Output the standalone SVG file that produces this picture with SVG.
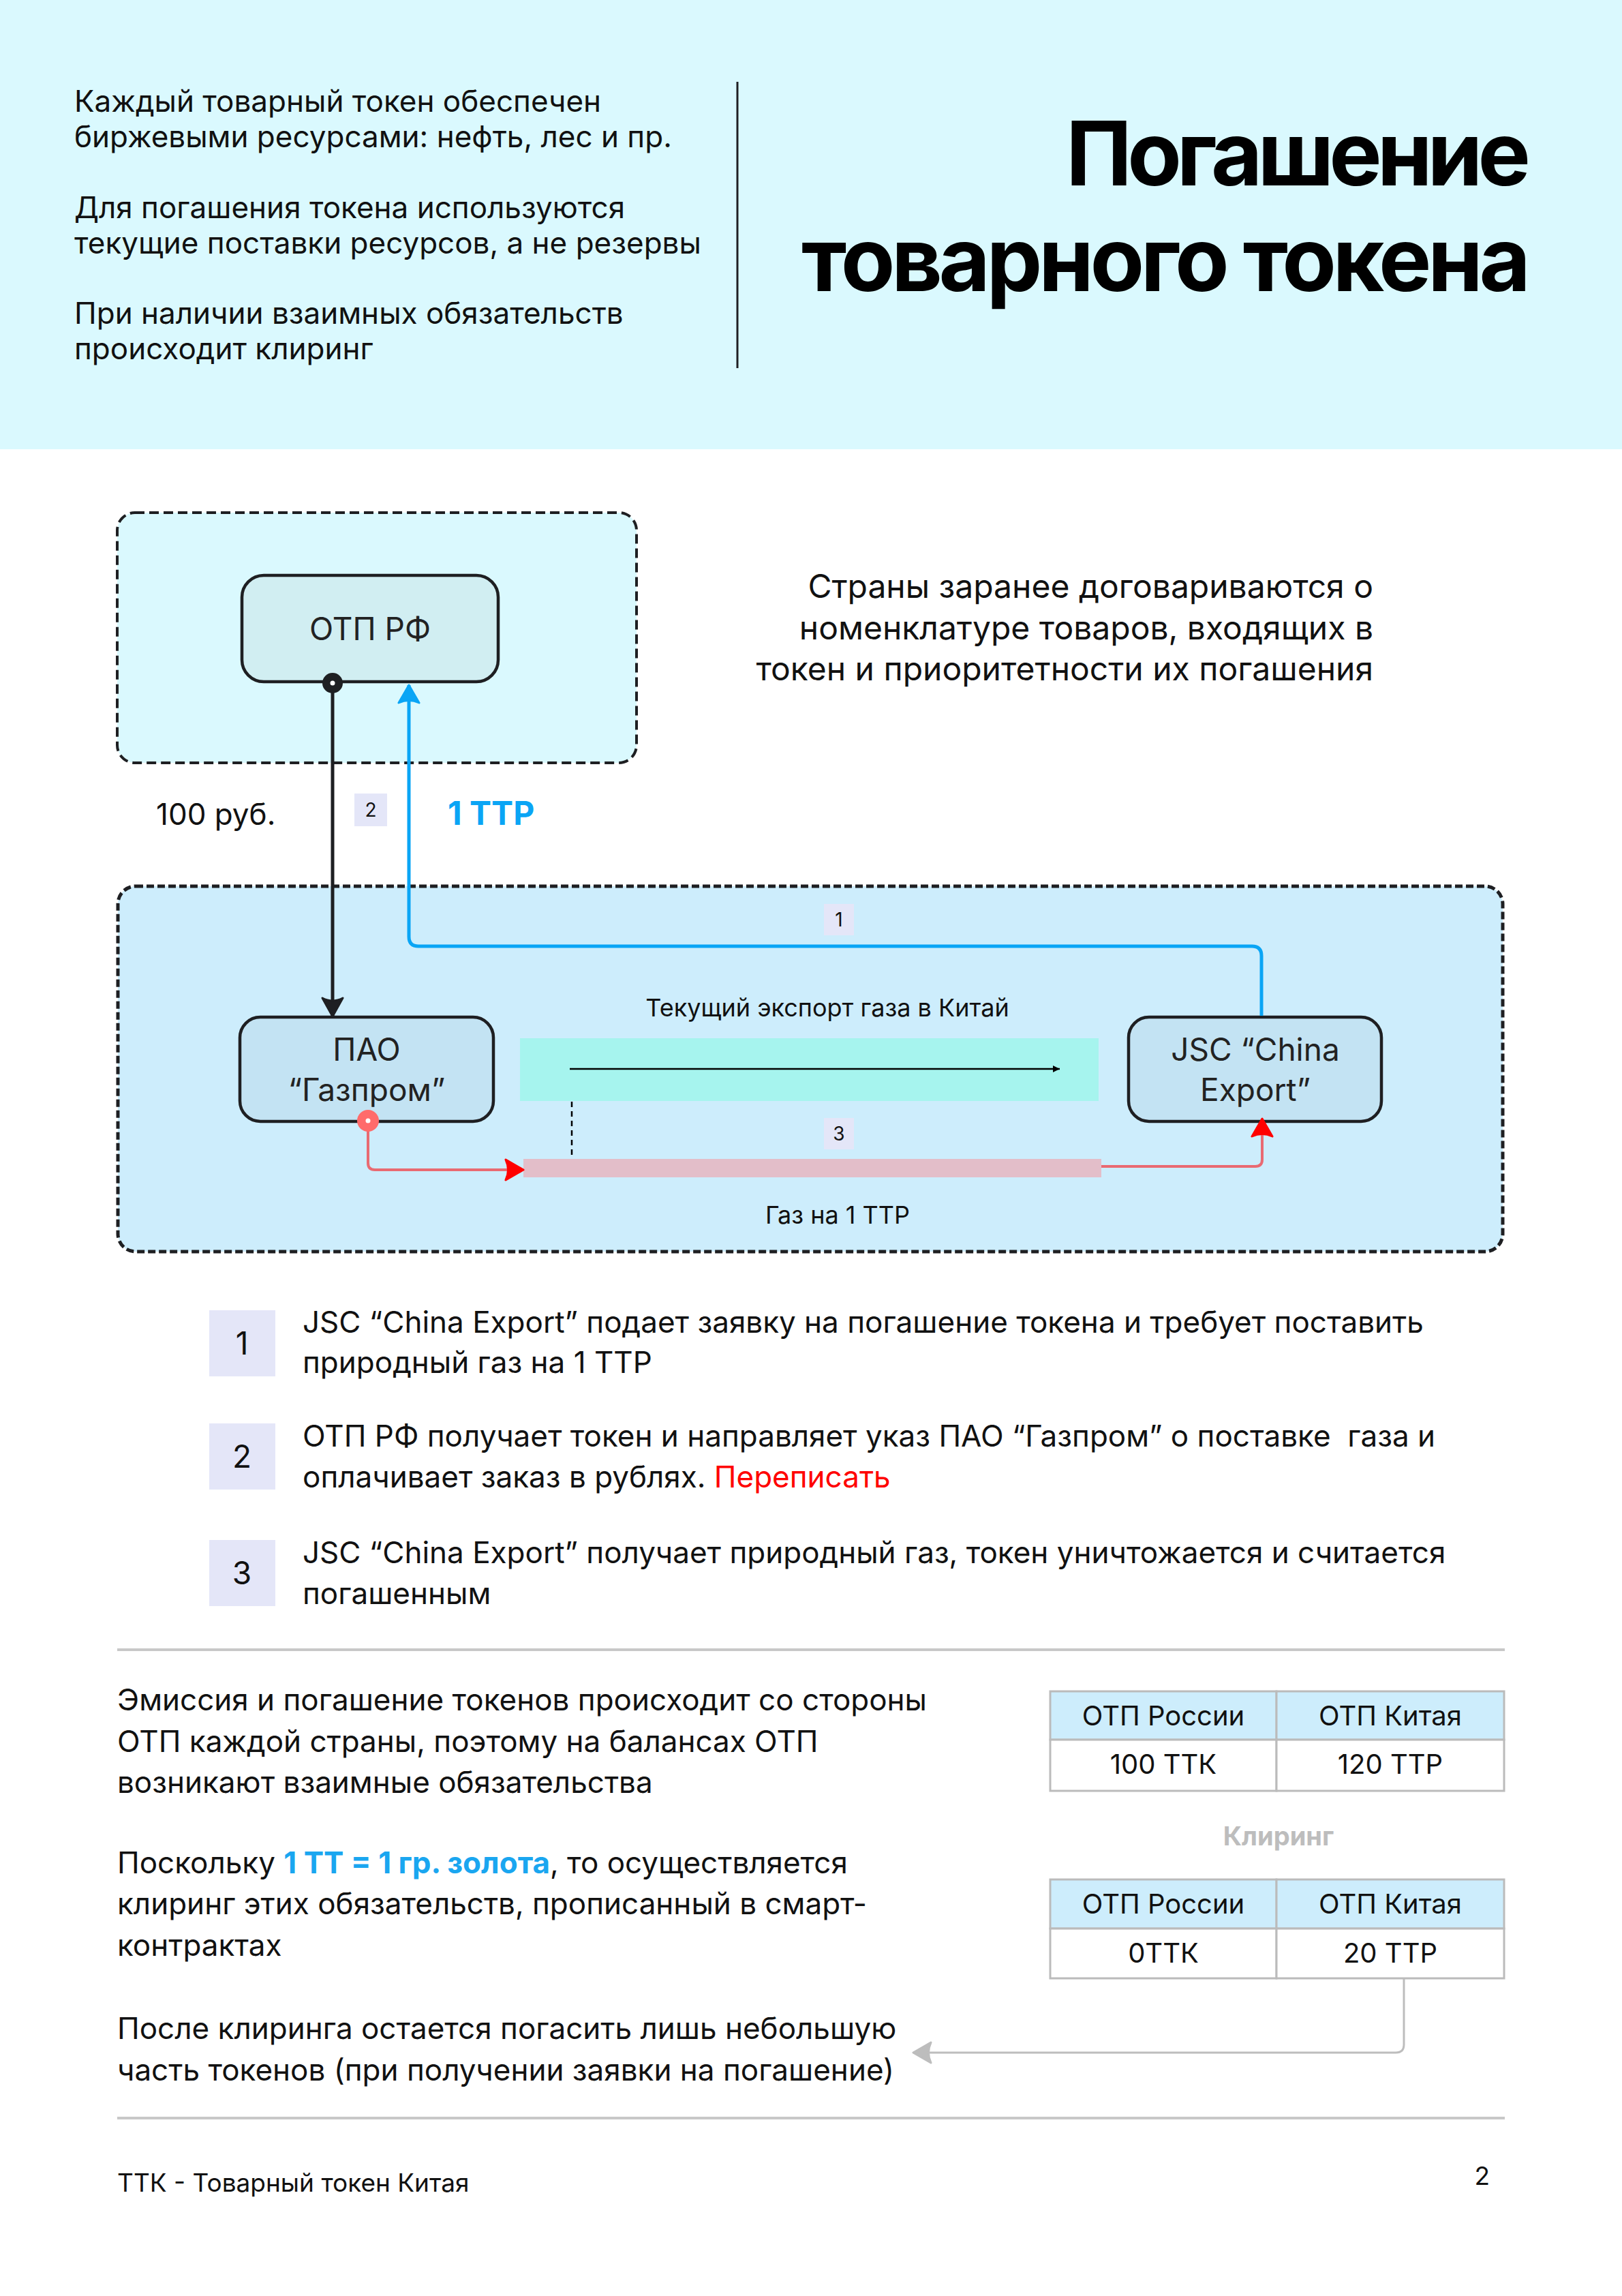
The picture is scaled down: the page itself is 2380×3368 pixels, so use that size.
<svg xmlns="http://www.w3.org/2000/svg" width="2380" height="3368" viewBox="0 0 2380 3368">
<style>
text{font-family:Inter,"Noto Sans","Liberation Sans",sans-serif;fill:#111}
.p{font-size:44px}
.title{font-size:130px;font-weight:700;fill:#000}
.note{font-size:48px}
.node{font-size:46px;fill:#222}
.lbl{font-size:44px}
.small{font-size:36px}
.badge-s{font-size:28px}
.badge-l{font-size:46px}
.step{font-size:44px}
.low{font-size:44px}
.tbl{font-size:40px}
.foot{font-size:37px}
.bdg{fill:#E4E6F8}
.nodebox{stroke:#1E1F22;stroke-width:4.5}
.th{fill:#CDEDFC;stroke:#BBBBBB;stroke-width:3}
.td{fill:#FFFFFF;stroke:#BBBBBB;stroke-width:3}
</style>
<defs>
<marker id="arrowBlack" markerUnits="userSpaceOnUse" viewBox="-32 -20 34 40" refX="0" refY="0" markerWidth="34" markerHeight="40" orient="auto"><path d="M0,0 L-27,-15 Q-19,0 -27,15 Z" fill="#1E1F22" stroke="#1E1F22" stroke-width="3" stroke-linejoin="round"/></marker>
<marker id="arrowBlue" markerUnits="userSpaceOnUse" viewBox="-32 -20 34 40" refX="0" refY="0" markerWidth="34" markerHeight="40" orient="auto"><path d="M0,0 L-26,-15 Q-19,0 -26,15 Z" fill="#0AA5F5" stroke="#0AA5F5" stroke-width="3" stroke-linejoin="round"/></marker>
<marker id="arrowRed" markerUnits="userSpaceOnUse" viewBox="-32 -20 34 40" refX="0" refY="0" markerWidth="34" markerHeight="40" orient="auto"><path d="M0,0 L-26,-15 Q-19,0 -26,15 Z" fill="#FF0000" stroke="#FF0000" stroke-width="3" stroke-linejoin="round"/></marker>
<marker id="arrowGray" markerUnits="userSpaceOnUse" viewBox="-32 -20 34 40" refX="0" refY="0" markerWidth="34" markerHeight="40" orient="auto"><path d="M0,0 L-26,-15 Q-19,0 -26,15 Z" fill="#BDBDBD" stroke="#BDBDBD" stroke-width="3" stroke-linejoin="round"/></marker>
<marker id="arrowSmall" markerUnits="userSpaceOnUse" viewBox="-12 -6 13 12" refX="0" refY="0" markerWidth="13" markerHeight="12" orient="auto"><path d="M0,0 L-10,-5 L-10,5 Z" fill="#000"/></marker>
<marker id="dotBlack" markerUnits="userSpaceOnUse" viewBox="-18 -18 36 36" refX="0" refY="0" markerWidth="36" markerHeight="36"><circle r="15" fill="#1E1F22"/><circle r="3.5" fill="#FFFFFF"/></marker>
<marker id="dotRed" markerUnits="userSpaceOnUse" viewBox="-18 -18 36 36" refX="0" refY="0" markerWidth="36" markerHeight="36"><circle r="16" fill="#FF6B6B"/><circle r="3.5" fill="#FFFFFF"/></marker>
</defs>

<rect x="0" y="0" width="2380" height="3368" fill="#FFFFFF"/>

<g id="header">
<rect x="0" y="0" width="2380" height="659" fill="#DAF9FE"/>
<text class="p" x="109" y="164">Каждый товарный токен обеспечен</text>
<text class="p" x="109" y="216">биржевыми ресурсами: нефть, лес и пр.</text>
<text class="p" x="109" y="320">Для погашения токена используются</text>
<text class="p" x="109" y="372">текущие поставки ресурсов, а не резервы</text>
<text class="p" x="109" y="475">При наличии взаимных обязательств</text>
<text class="p" x="109" y="527">происходит клиринг</text>
<line x1="1082" y1="120" x2="1082" y2="540" stroke="#1E1F22" stroke-width="3"/>
<text class="title" x="2246" y="272" text-anchor="end" textLength="682" lengthAdjust="spacing">Погашение</text>
<text class="title" x="2246" y="427" text-anchor="end" textLength="1070" lengthAdjust="spacing">товарного токена</text>
</g>

<g id="group-rf">
<rect x="172" y="752" width="762" height="367" rx="26" fill="#DAF9FE" stroke="#1E1F22" stroke-width="4" stroke-dasharray="14 7"/>
</g>
<g id="group-main">
<rect x="173" y="1300" width="2032" height="536" rx="26" fill="#CDEDFC" stroke="#1E1F22" stroke-width="5" stroke-dasharray="11 5"/>
</g>

<g id="note">
<text class="note" x="2015" y="877" text-anchor="end">Страны заранее договариваются о</text>
<text class="note" x="2015" y="938" text-anchor="end">номенклатуре товаров, входящих в</text>
<text class="note" x="2015" y="998" text-anchor="end">токен и приоритетности их погашения</text>
</g>

<g id="band-export">
<rect x="763" y="1523" width="849" height="92" fill="#A6F4EE"/>
<text class="small" x="1214" y="1491" text-anchor="middle">Текущий экспорт газа в Китай</text>
</g>
<g id="band-gas">
<rect x="768" y="1700" width="848" height="27" fill="#E3BEC9"/>
<text class="small" x="1229" y="1795" text-anchor="middle">Газ на 1 ТТР</text>
</g>

<g id="node-otp-rf">
<rect class="nodebox" x="355" y="844" width="376" height="156" rx="32" fill="#D1EEF2"/>
<text class="node" x="543" y="939" text-anchor="middle">ОТП РФ</text>
</g>
<g id="node-gazprom">
<rect class="nodebox" x="352" y="1492" width="372" height="153" rx="30" fill="#C3E3F3"/>
<text class="node" x="538" y="1556" text-anchor="middle">ПАО</text>
<text class="node" x="538" y="1615" text-anchor="middle">“Газпром”</text>
</g>
<g id="node-china-export">
<rect class="nodebox" x="1656" y="1492" width="371" height="153" rx="30" fill="#C3E3F3"/>
<text class="node" x="1842" y="1556" text-anchor="middle">JSC “China</text>
<text class="node" x="1842" y="1615" text-anchor="middle">Export”</text>
</g>

<g id="connectors" fill="none" stroke-linecap="butt">
<path d="M488,1002 L488,1491" stroke="#1E1F22" stroke-width="5" marker-start="url(#dotBlack)" marker-end="url(#arrowBlack)"/>
<path d="M1851,1490 L1851,1402 Q1851,1388 1837,1388 L614,1388 Q600,1388 600,1374 L600,1005" stroke="#0AA5F5" stroke-width="5" marker-end="url(#arrowBlue)"/>
<path d="M540,1644 L540,1706 Q540,1716 550,1716 L768,1716" stroke="#E96A72" stroke-width="4" marker-start="url(#dotRed)" marker-end="url(#arrowRed)"/>
<path d="M1616,1711 L1842,1711 Q1852,1711 1852,1701 L1852,1641" stroke="#E96A72" stroke-width="4" marker-end="url(#arrowRed)"/>
<path d="M836,1568 L1555,1568" stroke="#000" stroke-width="2.5" marker-end="url(#arrowSmall)"/>
<path d="M839,1616 L839,1697" stroke="#000" stroke-width="2.5" stroke-dasharray="8 6"/>
<path d="M2060,2902 L2060,2999 Q2060,3011 2048,3011 L1340,3011" stroke="#BDBDBD" stroke-width="3" marker-end="url(#arrowGray)"/>
</g>

<g id="labels">
<text class="lbl" x="229" y="1210">100 руб.</text>
<rect class="bdg" x="520" y="1164" width="48" height="48"/>
<text class="badge-s" x="544" y="1198" text-anchor="middle">2</text>
<text x="657" y="1210" font-size="48" font-weight="700" style="fill:#0AA5F5">1 ТТР</text>
<rect class="bdg" x="1209" y="1326" width="44" height="46"/>
<text class="badge-s" x="1231" y="1359" text-anchor="middle">1</text>
<rect class="bdg" x="1209" y="1640" width="44" height="46"/>
<text class="badge-s" x="1231" y="1673" text-anchor="middle">3</text>
</g>

<g id="steps">
<rect class="bdg" x="307" y="1922" width="97" height="97"/>
<text class="badge-l" x="355" y="1987" text-anchor="middle">1</text>
<text class="step" x="444" y="1955">JSC “China Export” подает заявку на погашение токена и требует поставить</text>
<text class="step" x="444" y="2014">природный газ на 1 ТТР</text>
<rect class="bdg" x="307" y="2088" width="97" height="97"/>
<text class="badge-l" x="355" y="2153" text-anchor="middle">2</text>
<text class="step" x="444" y="2122" xml:space="preserve">ОТП РФ получает токен и направляет указ ПАО “Газпром” о поставке  газа и</text>
<text class="step" x="444" y="2182">оплачивает заказ в рублях. <tspan style="fill:#FF0000">Переписать</tspan></text>
<rect class="bdg" x="307" y="2259" width="97" height="97"/>
<text class="badge-l" x="355" y="2324" text-anchor="middle">3</text>
<text class="step" x="444" y="2293">JSC “China Export” получает природный газ, токен уничтожается и считается</text>
<text class="step" x="444" y="2353">погашенным</text>
</g>

<line x1="172" y1="2420" x2="2208" y2="2420" stroke="#C8C8C8" stroke-width="4"/>

<g id="lower-text">
<text class="low" x="172" y="2509">Эмиссия и погашение токенов происходит со стороны</text>
<text class="low" x="172" y="2570">ОТП каждой страны, поэтому на балансах ОТП</text>
<text class="low" x="172" y="2630">возникают взаимные обязательства</text>
<text class="low" x="172" y="2748">Поскольку <tspan font-weight="700" style="fill:#1AA6F0">1 ТТ = 1 гр. золота</tspan>, то осуществляется</text>
<text class="low" x="172" y="2808">клиринг этих обязательств, прописанный в смарт-</text>
<text class="low" x="172" y="2869">контрактах</text>
<text class="low" x="172" y="2991">После клиринга остается погасить лишь небольшую</text>
<text class="low" x="172" y="3052">часть токенов (при получении заявки на погашение)</text>
</g>

<g id="table-before">
<rect class="th" x="1541" y="2481" width="332" height="71"/>
<rect class="th" x="1873" y="2481" width="334" height="71"/>
<rect class="td" x="1541" y="2552" width="332" height="75"/>
<rect class="td" x="1873" y="2552" width="334" height="75"/>
<text class="tbl" x="1707" y="2531" text-anchor="middle">ОТП России</text>
<text class="tbl" x="2040" y="2531" text-anchor="middle">ОТП Китая</text>
<text class="tbl" x="1707" y="2602" text-anchor="middle">100 ТТК</text>
<text class="tbl" x="2040" y="2602" text-anchor="middle">120 ТТР</text>
</g>
<text x="1876" y="2707" text-anchor="middle" font-size="38" font-weight="700" style="fill:#BDBDBD">Клиринг</text>
<g id="table-after">
<rect class="th" x="1541" y="2757" width="332" height="72"/>
<rect class="th" x="1873" y="2757" width="334" height="72"/>
<rect class="td" x="1541" y="2829" width="332" height="73"/>
<rect class="td" x="1873" y="2829" width="334" height="73"/>
<text class="tbl" x="1707" y="2807" text-anchor="middle">ОТП России</text>
<text class="tbl" x="2040" y="2807" text-anchor="middle">ОТП Китая</text>
<text class="tbl" x="1707" y="2879" text-anchor="middle">0ТТК</text>
<text class="tbl" x="2040" y="2879" text-anchor="middle">20 ТТР</text>
</g>

<line x1="172" y1="3107" x2="2208" y2="3107" stroke="#C8C8C8" stroke-width="4"/>

<g id="footer">
<text class="foot" x="172" y="3215">ТТК - Товарный токен Китая</text>
<text class="foot" x="2186" y="3205" text-anchor="end">2</text>
</g>
</svg>
